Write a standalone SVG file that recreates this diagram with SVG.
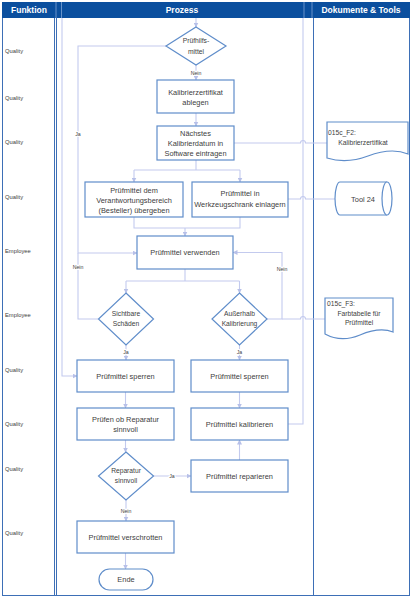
<svg xmlns="http://www.w3.org/2000/svg" width="415" height="600" viewBox="0 0 415 600">
<defs>
<marker id="ah" viewBox="0 0 10 10" refX="9" refY="5" markerWidth="5" markerHeight="5" orient="auto" markerUnits="userSpaceOnUse">
<path d="M0,0 L10,5 L0,10 Z" fill="#B7C0E8"/>
</marker>
</defs>
<style>
.frame{stroke:#3D6FB6;stroke-width:1;fill:none}
.node{fill:#fff;stroke:#5F8DCA;stroke-width:1.2}
.conn{fill:none;stroke:#C3CAEE;stroke-width:1.1}
.t{font-family:"Liberation Sans",Arial,sans-serif;font-size:7.4px;fill:#404040;text-anchor:middle}
.d{font-family:"Liberation Sans",Arial,sans-serif;font-size:6.7px;fill:#404040;text-anchor:middle}
.lb{font-family:"Liberation Sans",Arial,sans-serif;font-size:5.2px;fill:#404040;text-anchor:middle;paint-order:stroke;stroke:#fff;stroke-width:2}
.fn{font-family:"Liberation Sans",Arial,sans-serif;font-size:5.8px;fill:#404040}
.h{font-family:"Liberation Sans",Arial,sans-serif;font-size:8.5px;font-weight:bold;fill:#fff;text-anchor:middle}
</style>
<rect width="415" height="600" fill="#fff"/>
<g id="frame">
<rect x="2" y="2" width="408" height="16" fill="#0B4F9E"/>
<line x1="56" y1="2" x2="56" y2="18" stroke="#8FB0DD" stroke-width="0.7"/>
<line x1="61.5" y1="2" x2="61.5" y2="18" stroke="#8FB0DD" stroke-width="0.7"/>
<line x1="304" y1="2" x2="304" y2="18" stroke="#8FB0DD" stroke-width="0.7"/>
<line x1="312" y1="2" x2="312" y2="18" stroke="#8FB0DD" stroke-width="0.7"/>
<text class="h" x="29" y="13">Funktion</text>
<text class="h" x="182" y="13">Prozess</text>
<text class="h" x="361" y="13">Dokumente &amp; Tools</text>
<line class="frame" x1="2.5" y1="18" x2="2.5" y2="595"/>
<line class="frame" x1="54.5" y1="18" x2="54.5" y2="595"/>
<line class="frame" x1="56.5" y1="18" x2="56.5" y2="595"/>
<line class="frame" x1="313.5" y1="18" x2="313.5" y2="595"/>
<line class="frame" x1="409.5" y1="18" x2="409.5" y2="595"/>
<line class="frame" x1="2" y1="595.5" x2="410" y2="595.5" stroke-width="1.3"/>
</g>
<g id="funktion">
<text class="fn" x="5" y="53">Quality</text>
<text class="fn" x="5" y="100">Quality</text>
<text class="fn" x="5" y="144">Quality</text>
<text class="fn" x="5" y="199">Quality</text>
<text class="fn" x="5" y="253">Employee</text>
<text class="fn" x="5" y="317">Employee</text>
<text class="fn" x="5" y="372">Quality</text>
<text class="fn" x="5" y="426">Quality</text>
<text class="fn" x="5" y="471">Quality</text>
<text class="fn" x="5" y="535">Quality</text>
</g>
<g id="connectors">
<path class="conn" d="M196,18 V27" marker-end="url(#ah)"/>
<path class="conn" d="M196,65 V80" marker-end="url(#ah)"/>
<path class="conn" d="M196,113 V126" marker-end="url(#ah)"/>
<path class="conn" d="M196,160 V170 M134,170 H240"/>
<path class="conn" d="M134,170 V182" marker-end="url(#ah)"/>
<path class="conn" d="M240,170 V182" marker-end="url(#ah)"/>
<path class="conn" d="M134,217 V228 H240 V217 M185,228 V236" marker-end="url(#ah)"/>
<path class="conn" d="M166,46 H78 V253 H137" marker-end="url(#ah)"/>
<path class="conn" d="M98,319 H78 V253"/>
<path class="conn" d="M185,269 V281 M126,281 H239.5"/>
<path class="conn" d="M126,281 V293" marker-end="url(#ah)"/>
<path class="conn" d="M239.5,281 V293" marker-end="url(#ah)"/>
<path class="conn" d="M126,345 V360" marker-end="url(#ah)"/>
<path class="conn" d="M239.5,345 V360" marker-end="url(#ah)"/>
<path class="conn" d="M267,319 H282 V252.5 H233" marker-end="url(#ah)"/>
<path class="conn" d="M282,319 H300.5 A2.5,2.5 0 0 1 305.5,319 H325"/>
<path class="conn" d="M62,18 V376 H77" marker-end="url(#ah)"/>
<path class="conn" d="M125.5,392 V408" marker-end="url(#ah)"/>
<path class="conn" d="M239.5,392 V408" marker-end="url(#ah)"/>
<path class="conn" d="M125.5,440 V452" marker-end="url(#ah)"/>
<path class="conn" d="M153,476 H191" marker-end="url(#ah)"/>
<path class="conn" d="M126,500 V521" marker-end="url(#ah)"/>
<path class="conn" d="M239.5,460 V440" marker-end="url(#ah)"/>
<path class="conn" d="M288,424 H303 V18"/>
<path class="conn" d="M125.5,553 V569" marker-end="url(#ah)"/>
<path class="conn" d="M234,143 H300.5 A2.5,2.5 0 0 1 305.5,143 H327"/>
<path class="conn" d="M288,199 H300.5 A2.5,2.5 0 0 1 305.5,199 H335"/>
<text class="lb" x="196" y="75">Nein</text>
<text class="lb" x="78" y="136">Ja</text>
<text class="lb" x="78" y="269">Nein</text>
<text class="lb" x="282" y="271">Nein</text>
<text class="lb" x="126" y="354">Ja</text>
<text class="lb" x="239.5" y="354">Ja</text>
<text class="lb" x="172" y="478">Ja</text>
<text class="lb" x="126" y="513">Nein</text>
</g>
<g id="n-pruefhilfsmittel">
<path class="node" d="M196,27 L226,46 L196,65 L166,46 Z"/>
<text class="d" x="196" y="43">Prüfhilfs-</text>
<text class="d" x="196" y="54">mittel</text>
</g>
<g id="n-ablegen">
<rect class="node" x="157" y="80" width="77" height="33"/>
<text class="t" x="195.5" y="95">Kalibrierzertifikat</text>
<text class="t" x="195.5" y="105">ablegen</text>
</g>
<g id="n-naechstes">
<rect class="node" x="157" y="126" width="77" height="34"/>
<text class="t" x="195.5" y="135.5">Nächstes</text>
<text class="t" x="195.5" y="145.5">Kalibrierdatum in</text>
<text class="t" x="195.5" y="155.5">Software eintragen</text>
</g>
<g id="n-uebergeben">
<rect class="node" x="85" y="182" width="98" height="35"/>
<text class="t" x="134" y="192.5">Prüfmittel dem</text>
<text class="t" x="134" y="202.5">Verantwortungsbereich</text>
<text class="t" x="134" y="212.5">(Besteller) übergeben</text>
</g>
<g id="n-einlagern">
<rect class="node" x="192" y="182" width="96" height="35"/>
<text class="t" x="240" y="196">Prüfmittel in</text>
<text class="t" x="240" y="206.5">Werkzeugschrank einlagern</text>
</g>
<g id="n-verwenden">
<rect class="node" x="137" y="236" width="96" height="33"/>
<text class="t" x="185" y="255">Prüfmittel verwenden</text>
</g>
<g id="n-schaeden">
<path class="node" d="M126,293 L153.5,319 L126,345 L98.5,319 Z"/>
<text class="d" x="126" y="316">Sichtbare</text>
<text class="d" x="126" y="326">Schäden</text>
</g>
<g id="n-ausserhalb">
<path class="node" d="M239.5,293 L267,319 L239.5,345 L212,319 Z"/>
<text class="d" x="239.5" y="316">Außerhalb</text>
<text class="d" x="239.5" y="326">Kalibrierung</text>
</g>
<g id="n-sperren1">
<rect class="node" x="77" y="360" width="97" height="32"/>
<text class="t" x="125.5" y="378.5">Prüfmittel sperren</text>
</g>
<g id="n-sperren2">
<rect class="node" x="191" y="360" width="97" height="32"/>
<text class="t" x="239.5" y="378.5">Prüfmittel sperren</text>
</g>
<g id="n-pruefen">
<rect class="node" x="77" y="408" width="97" height="32"/>
<text class="t" x="125.5" y="421.5">Prüfen ob Reparatur</text>
<text class="t" x="125.5" y="431.5">sinnvoll</text>
</g>
<g id="n-kalibrieren">
<rect class="node" x="191" y="408" width="97" height="32"/>
<text class="t" x="239.5" y="426.5">Prüfmittel kalibrieren</text>
</g>
<g id="n-reparatur">
<path class="node" d="M126,452 L153.5,476 L126,500 L98.5,476 Z"/>
<text class="d" x="126" y="473">Reparatur</text>
<text class="d" x="126" y="483">sinnvoll</text>
</g>
<g id="n-reparieren">
<rect class="node" x="191" y="460" width="97" height="32"/>
<text class="t" x="239.5" y="478.5">Prüfmittel reparieren</text>
</g>
<g id="n-verschrotten">
<rect class="node" x="77" y="521" width="97" height="32"/>
<text class="t" x="125.5" y="539.5">Prüfmittel verschrotten</text>
</g>
<g id="n-ende">
<rect class="node" x="99" y="569" width="54" height="21" rx="10.5"/>
<text class="t" x="126" y="582">Ende</text>
</g>
<g id="d-f2">
<path class="node" d="M327,122 H408 V154 C396,149 384,150 368,156 C352,162 340,162 327,158 Z"/>
<text class="d" x="328" y="135" style="text-anchor:start">015c_F2:</text>
<text class="d" x="363" y="145">Kalibrierzertifikat</text>
</g>
<g id="d-tool24">
<path class="node" d="M340,182 H387 A5,16.5 0 0 1 387,215 H340 A5,16.5 0 0 1 340,182 Z"/>
<path class="node" d="M387,182 A5,16.5 0 0 0 387,215" fill="none"/>
<text class="t" x="363" y="201.5">Tool 24</text>
</g>
<g id="d-f3">
<path class="node" d="M325,298 H393 V332 C383,328 372,330 360,335 C348,340 336,340 325,334 Z"/>
<text class="d" x="327" y="306" style="text-anchor:start">015c_F3:</text>
<text class="d" x="359" y="316">Farbtabelle für</text>
<text class="d" x="359" y="325">Prüfmittel</text>
</g>
</svg>
